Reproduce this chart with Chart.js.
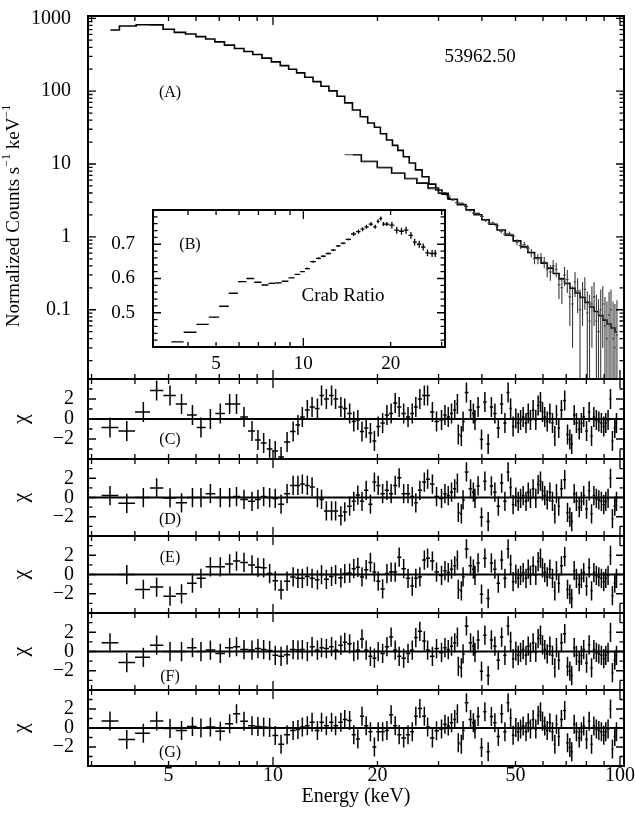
<!DOCTYPE html>
<html>
<head>
<meta charset="utf-8">
<title>53962.50 spectrum</title>
<script src="https://cdn.jsdelivr.net/npm/chart.js@4.4.1/dist/chart.umd.min.js"></script>
<style>
  html, body { margin: 0; padding: 0; background: #fff; }
  #wrap { position: relative; width: 635px; height: 814px; }
  #wrap canvas { position: absolute; left: 0; top: 0; }
</style>
</head>
<body>
<div id="wrap">
  <canvas id="spectrum" width="635" height="814"></canvas>
  <canvas id="crab" width="635" height="814"></canvas>
  <canvas id="resC" width="635" height="814"></canvas>
  <canvas id="resD" width="635" height="814"></canvas>
  <canvas id="resE" width="635" height="814"></canvas>
  <canvas id="resF" width="635" height="814"></canvas>
  <canvas id="resG" width="635" height="814"></canvas>
</div>
<script>
// PCA spectrum (bin centre keV, counts/s/keV)
const pcaE = [3.4, 3.83, 4.25, 4.65, 5.0, 5.4, 5.8, 6.2, 6.6, 7.0, 7.5, 8.0, 8.5, 9.0, 9.6, 10.2, 10.8, 11.4, 12.0, 12.7,
  13.4, 14.1, 14.9, 15.7, 16.5, 17.4, 18.3, 19.2, 20.0, 20.8, 21.7, 22.5, 23.3, 24.2, 25.2, 26.3, 27.5, 28.8, 30.1, 31.3, 32.5];
const pcaRate = [690, 783, 815, 812, 707, 640, 608, 560, 520, 475, 428, 385, 350, 318, 284, 252, 224, 200, 178, 155,
  135, 117, 101, 85, 69, 55, 44.5, 36.5, 32, 26, 21.4, 18, 15.4, 12.6, 10.3, 8.3, 6.7, 5.3, 4.4, 3.85, 3.4];

// HEXTE model (stepped line)
const hexE = [17.0, 19.0, 21.0, 23.0, 25.0, 27.0, 29.0, 31.0, 33.0, 35.0, 37.0, 39.0, 41.0, 43.0, 45.5, 48.0, 50.5, 53.0,
  55.5, 58.0, 60.5, 63.0, 65.5, 68.0, 70.5, 73.0, 75.5, 78.0, 80.5, 83.0, 85.5, 88.0, 90.5, 93.0, 95.5, 98.0];
const hexModel = [13.4, 10.8, 8.95, 7.46, 6.34, 5.46, 4.66, 3.96, 3.28, 2.77, 2.35, 2.01, 1.72, 1.49, 1.24, 1.05, 0.88, 0.73,
  0.61, 0.516, 0.436, 0.372, 0.314, 0.265, 0.229, 0.197, 0.17, 0.147, 0.126, 0.109, 0.0946, 0.083, 0.072, 0.0638, 0.056, 0.0495];

// HEXTE data points with 1-sigma errors
const hexDataE = [17.0, 19.0, 21.0, 23.0, 25.0, 27.0, 29.0, 31.0, 32.0, 33.0, 34.0, 35.0, 36.0, 37.0, 38.0, 39.0, 40.0, 41.0,
  42.0, 43.0, 44.2, 45.5, 46.7, 48.0, 49.2, 50.5, 51.7, 53.0, 54.2, 55.5, 56.7, 58.0, 59.2, 60.5, 61.7, 63.0, 64.2, 65.5,
  66.7, 68.0, 69.2, 70.5, 71.7, 73.0, 74.2, 75.5, 76.7, 78.0, 79.2, 80.5, 81.7, 83.0, 84.2, 85.5, 86.7, 88.0, 89.2, 90.5,
  91.7, 93.0, 94.2, 95.5, 96.7, 98.0];
const hexRate = [13.4, 10.9, 8.9, 7.5, 6.3, 5.55, 4.6, 4.05, 3.65, 3.2, 2.95, 2.9, 2.62, 2.3, 2.12, 2.1, 1.9, 1.68,
  1.55, 1.55, 1.42, 1.2, 1.1, 1.1, 1.02, 0.85, 0.76, 0.78, 0.70, 0.6, 0.5, 0.5, 0.52, 0.45, 0.36, 0.33, 0.40, 0.36,
  0.22, 0.2, 0.3, 0.26, 0.15, 0.12, 0.24, 0.18, 0.1, 0.15, 0.19, 0.09, 0.07, 0.12, 0.15, 0.07, 0.05, 0.1, 0.12, 0.06,
  0.04, 0.085, 0.1, 0.04, 0.03, 0.045];
const hexErr = [0.15, 0.13, 0.11, 0.1, 0.09, 0.08, 0.08, 0.08, 0.08, 0.08, 0.08, 0.08, 0.08, 0.08, 0.08, 0.08, 0.08, 0.08,
  0.08, 0.08, 0.08, 0.08, 0.08, 0.08, 0.08, 0.08, 0.08, 0.08, 0.08, 0.08, 0.08, 0.08, 0.08, 0.08, 0.08, 0.08, 0.08, 0.08,
  0.08, 0.08, 0.09, 0.09, 0.09, 0.09, 0.09, 0.09, 0.09, 0.09, 0.09, 0.09, 0.09, 0.09, 0.09, 0.09, 0.09, 0.09, 0.09, 0.09,
  0.09, 0.09, 0.09, 0.09, 0.09, 0.09];

// inset (B): ratio to the Crab
const crabE = [3.68, 4.06, 4.51, 4.93, 5.33, 5.74, 6.16, 6.57, 6.97, 7.38, 7.78, 8.2, 8.65, 9.12, 9.55, 9.95,
  10.3, 10.8, 11.3, 11.7, 12.2, 12.7, 13.2, 13.7, 14.3, 14.9, 15.5, 16.0, 16.5, 17.1, 17.7, 18.1, 18.5, 18.9, 19.4,
  20.2, 21.0, 21.8, 22.6, 23.5, 24.2, 25.1, 25.9, 26.8, 27.8, 28.5];
const crabRatio = [0.415, 0.443, 0.466, 0.487, 0.519, 0.557, 0.591, 0.600, 0.589, 0.581, 0.586, 0.587, 0.592, 0.602, 0.612, 0.620,
  0.629, 0.649, 0.659, 0.665, 0.673, 0.683, 0.695, 0.703, 0.714, 0.730, 0.737, 0.744, 0.751, 0.759, 0.751, 0.767, 0.775, 0.759, 0.759,
  0.756, 0.741, 0.738, 0.741, 0.726, 0.706, 0.700, 0.692, 0.675, 0.673, 0.673];
const crabErr = [0.002, 0.002, 0.002, 0.002, 0.002, 0.002, 0.002, 0.002, 0.002, 0.002, 0.002, 0.002, 0.002, 0.002, 0.002, 0.002,
  0.003, 0.003, 0.003, 0.003, 0.003, 0.003, 0.003, 0.003, 0.003, 0.006, 0.006, 0.006, 0.006, 0.006, 0.006, 0.006, 0.006, 0.006, 0.006,
  0.01, 0.01, 0.01, 0.01, 0.01, 0.01, 0.01, 0.01, 0.01, 0.01, 0.01];

// residual energies: low part differs per panel, high part is shared
const resLoE = [3.39, 3.79, 4.23, 4.62, 5.05, 5.45, 5.86, 6.2, 6.6, 7.05, 7.5, 7.85, 8.25, 8.7, 9.05, 9.4, 9.78,
  10.15, 10.55, 10.98, 11.43, 11.8, 12.15, 12.56, 12.96, 13.43, 13.8, 14.25, 14.75, 15.15, 15.69, 16.1, 16.63, 17.09, 17.56,
  18.05, 18.56, 19.09, 19.6, 20.1, 20.7, 21.3, 21.9, 22.5, 23.1, 23.8, 24.5, 25.2, 25.8, 26.5, 27.3, 27.9, 28.8, 29.6];
const resHiE = [30.6, 31.3, 32.0, 32.7, 33.4, 34.0, 34.2, 34.9, 35.3, 36.1, 37.1, 37.8, 38.2, 39.0, 39.9, 40.8, 41.7, 42.6,
  43.6, 44.6, 45.6, 46.6, 47.6, 48.4, 49.2, 50.1, 50.9, 51.7, 52.6, 53.6, 54.4, 55.2, 56.2, 57.2, 58.1, 59.0, 59.8, 60.7,
  61.7, 62.8, 63.9, 64.9, 65.6, 66.6, 67.8, 69.3, 70.6, 71.7, 72.6, 73.8, 74.9, 76.3, 77.4, 78.6, 80.1, 81.5, 82.8, 84.1,
  85.5, 86.9, 88.4, 89.8, 91.0, 92.4, 93.9, 95.1, 96.6, 97.7];

const chiC = [-0.85, -1.2, 0.7, 2.85, 2.35, 1.5, 0.4, -0.85, 0, 0.55, 1.5, 1.5, 0.2, -1.2, -2.1, -2.4, -3.0,
  -3.2, -3.8, -2.3, -1.25, -0.6, 0.2, 0.9, 1.2, 1.05, 2.35, 2.0, 2.35, 2.0, 1.2, 1.05, 0.55, -0.25, -0.1, -1.25,
  -0.9, -1.4, -2.2, -0.75, -0.4, 0.4, 0.55, 1.6, 1.2, 0.55, 0.2, 0.55, 1.2, 2.0, 2.35, 2.35, 0.7, -0.25];
const chiD = [0.2, -0.6, 0, 1.0, -0.05, -0.55, 0, 0, 0.4, 0, 0, 0.1, -0.2, -0.4, -0.2, 0.1, 0,
  -0.1, -0.7, 0.4, 1.25, 1.25, 1.4, 1.25, 1.1, 0, -0.2, -1.4, -1.4, -1.4, -1.9, -1.5, -0.9, -0.4, 0.25, -0.4,
  0.75, -0.7, 1.6, 1.25, 0.4, 0.75, 0.4, 1.25, 2.05, 0.4, 0.4, 0.1, -0.55, 0.75, 1.6, 1.9, 1.4, 0.1];
const chiE = [null, 0, -1.55, -1.3, -2.25, -2.0, -0.9, -0.4, 0.8, 0.8, 1.1, 1.4, 1.25, 1.0, 0.75, 0.7, 0.1,
  -0.65, -1.6, -0.7, -0.25, -0.4, -0.4, -0.2, -0.4, -0.55, 0, -0.5, -0.2, 0, -0.35, 0.1, 0.15, 0.6, 0.75, -0.25,
  0.5, 1.25, 0.25, -0.7, -1.5, 0.1, 0.25, 0.25, 1.8, 0.6, -0.4, -1.2, -0.4, -0.25, 1.5, 1.7, 1.4, 0.25];
const chiF = [0.9, -1.15, -0.6, 0.65, 0, 0, 0.4, 0, 0.15, -0.2, 0.4, 0.5, 0.2, 0.15, 0.3, 0.2, 0.1,
  -0.4, -0.5, -0.35, 0.2, 0.15, 0.2, 0, 0.5, 0.15, 0.4, 0.3, 0.5, 0.15, 0.65, 0.95, 0.8, 0, 0.15, 1.3,
  0.15, -0.5, -0.7, 0, -0.2, 0.5, 1.5, 0.15, -0.5, -0.7, -0.2, 0.15, 1.45, 2.1, 1.1, 0.15, -0.5, 0.3];
const chiG = [0.75, -1.2, -0.55, 0.75, -0.05, -0.25, 0.15, 0, 0.1, -0.35, 0.45, 1.5, 0.7, 0.25, 0.15, 0.1, 0.05,
  -0.8, -1.7, -0.7, -0.25, -0.15, 0.1, 0.25, 0.6, -0.25, 0.6, 0.25, 0.6, 0.25, 0.6, 0.9, 0.8, -0.7, -1.15, 1.25,
  0.25, -0.4, -2.0, -0.4, -0.4, -0.25, 1.4, 0.25, -0.7, -1.05, -0.7, -0.4, 1.25, 2.05, 1.25, 0.1, -1.05, -0.3];
const chiHi = [-0.1, 0.4, 0.2, 0.55, 0.9, 1.5, -1.55, -1.7, -0.25, 2.65,
  0.9, 0.55, -0.1, 1.2, -2.05, 1.7, -2.5, 1.2, 0.55, -0.9,
  1.5, -0.4, 2.65, 1.05, -0.75, 0.05, -0.4, -0.1, 0.2, -0.4,
  0.55, -0.1, 0.9, -0.1, 1.35, 1.7, 0.7, 0.2, -0.25, 0.55,
  -0.4, -1.7, 0.4, -0.9, 0.9, 1.85, -1.55, -2.05, -2.5, 0.4,
  -0.4, -1.05, -0.4, 0.2, -1.2, 0.7, -1.7, 0.2, -0.1, -0.25,
  -0.4, -0.75, -0.4, -0.1, 2.0, -2.2, -0.9, -0.4];

// tick labels
const energyLabels = [5, 10, 20, 50, 100];
const countLabels = [0.1, 1, 10, 100, 1000];
const chiLabels = [-2, 0, 2];
const crabXLabels = [5, 10, 20];
const crabYLabels = [0.5, 0.6, 0.7];

const W = 635, H = 814;
const SERIF = '"Liberation Serif", "Times New Roman", "DejaVu Serif", serif';
const X_MIN = 2.93, X_MAX = 102.7;

Chart.defaults.font.family = SERIF;
Chart.defaults.color = '#000';

// tick mark positions (inward ticks on every side)
const xMajor = [10, 100];
const xMinor = [3, 4, 5, 6, 7, 8, 9, 20, 30, 40, 50, 60, 70, 80, 90];
const countMinor = [];
[0.01, 0.1, 1, 10, 100, 1000].forEach((d) => {
  for (let k = 2; k <= 9; k++) countMinor.push(d * k);
});
const chiMinor = [-3, -1, 1, 3];
const crabMinor = [];
for (let v = 42; v < 80; v += 2) if (v % 10 !== 0) crabMinor.push(v / 100);

function binEdges(centers) {
  const lo = [], hi = [];
  centers.forEach((c, i) => {
    const prev = centers[i - 1], next = centers[i + 1];
    const l = prev ? Math.sqrt(prev * c) : null;
    const h = next ? Math.sqrt(c * next) : null;
    lo.push(l !== null ? l : (c * c) / h);
    hi.push(h !== null ? h : (c * c) / l);
  });
  return { lo, hi };
}

function errPoints(xs, ys, dy) {
  const { lo, hi } = binEdges(xs);
  return xs.map((x, i) => {
    if (ys[i] === null) return { x, y: null };
    return { x, y: ys[i], xMin: lo[i], xMax: hi[i], yMin: ys[i] - dy[i], yMax: ys[i] + dy[i] };
  });
}

// plot rectangle -> layout padding, leaving `room` for the axis boxes
function pad(r, yRoom, xRoom) {
  return { left: r.left - yRoom, top: r.top, right: W - r.right, bottom: H - r.bottom - xRoom };
}

function fmt(v) {
  return v < 0 ? '\u2212' + Math.abs(v) : String(v);
}

function axis(type, min, max, labels, show, padding, size, room) {
  return {
    type, min, max, bounds: 'data',
    grid: { display: false, drawTicks: false },
    border: { display: false },
    ticks: { display: show, autoSkip: false, maxRotation: 0, minRotation: 0, padding,
      color: '#000', font: { family: SERIF, size }, callback: fmt },
    afterBuildTicks: (s) => { s.ticks = labels.map((v) => ({ value: v })); },
    afterFit: (s) => {
      if (s.isHorizontal()) s.height = room; else s.width = room;
      s.paddingLeft = s.paddingRight = s.paddingTop = s.paddingBottom = 0;
    },
  };
}

// draws error crosses stored on the data points
const errorBars = {
  id: 'errorBars',
  afterDatasetsDraw(chart) {
    const { ctx, chartArea: a, scales: { x, y } } = chart;
    ctx.save();
    ctx.beginPath();
    ctx.rect(a.left, a.top, a.right - a.left, a.bottom - a.top);
    ctx.clip();
    chart.data.datasets.forEach((ds) => {
      if (!ds.errorBars) return;
      ctx.strokeStyle = ds.barColor || '#000';
      ctx.lineWidth = ds.barWidth || 1.5;
      ctx.beginPath();
      ds.data.forEach((p) => {
        if (p.y === null) return;
        const px = x.getPixelForValue(p.x), py = y.getPixelForValue(p.y);
        ctx.moveTo(x.getPixelForValue(p.xMin), py);
        ctx.lineTo(x.getPixelForValue(p.xMax), py);
        const low = (p.yMin > 0 || y.type !== 'logarithmic') ? y.getPixelForValue(p.yMin) : a.bottom + 2;
        ctx.moveTo(px, y.getPixelForValue(p.yMax));
        ctx.lineTo(px, low);
      });
      ctx.stroke();
    });
    ctx.restore();
  },
};

// box, inward ticks, optional zero line and white background
function frame(o) {
  return {
    id: 'frame',
    beforeDraw(chart) {
      if (!o.fill) return;
      const a = chart.chartArea;
      chart.ctx.save();
      chart.ctx.fillStyle = '#fff';
      chart.ctx.fillRect(a.left, a.top, a.right - a.left, a.bottom - a.top);
      chart.ctx.restore();
    },
    beforeDatasetsDraw(chart) {
      if (!o.zero) return;
      const { ctx, chartArea: a, scales: { y } } = chart;
      const py = y.getPixelForValue(0);
      ctx.save();
      ctx.strokeStyle = '#000';
      ctx.lineWidth = 1.8;
      ctx.beginPath();
      ctx.moveTo(a.left, py);
      ctx.lineTo(a.right, py);
      ctx.stroke();
      ctx.restore();
    },
    afterDraw(chart) {
      const { ctx, chartArea: a, scales: { x, y } } = chart;
      ctx.save();
      ctx.strokeStyle = '#000';
      ctx.lineWidth = 1.3;
      ctx.beginPath();
      const xt = (vals, len) => vals.forEach((v) => {
        if (v < x.min || v > x.max) return;
        const px = x.getPixelForValue(v);
        ctx.moveTo(px, a.top); ctx.lineTo(px, a.top + len);
        ctx.moveTo(px, a.bottom); ctx.lineTo(px, a.bottom - len);
      });
      const yt = (vals, len) => vals.forEach((v) => {
        if (v < y.min || v > y.max) return;
        const py = y.getPixelForValue(v);
        ctx.moveTo(a.left, py); ctx.lineTo(a.left + len, py);
        ctx.moveTo(a.right, py); ctx.lineTo(a.right - len, py);
      });
      xt(o.xMajor, 9); xt(o.xMinor, 5);
      yt(o.yMajor, 8); yt(o.yMinor, 4.5);
      ctx.stroke();
      ctx.lineWidth = 2;
      ctx.strokeRect(a.left, a.top, a.right - a.left, a.bottom - a.top);
      ctx.restore();
    },
  };
}

// free text, with optional superscript parts and rotation
function notes(items) {
  return {
    id: 'notes',
    afterDraw(chart) {
      const ctx = chart.ctx;
      items.forEach((n) => {
        const parts = n.parts || [{ t: n.text }];
        ctx.save();
        ctx.translate(n.x, n.y);
        if (n.rotate) ctx.rotate(n.rotate);
        ctx.fillStyle = '#000';
        ctx.textBaseline = 'middle';
        ctx.textAlign = 'left';
        const fontOf = (p) => `${p.sup ? Math.round(n.size * 0.62) : n.size}px ${SERIF}`;
        let total = 0;
        parts.forEach((p) => { ctx.font = fontOf(p); total += ctx.measureText(p.t).width; });
        let cx = -total / 2;
        parts.forEach((p) => {
          ctx.font = fontOf(p);
          ctx.fillText(p.t, cx, p.sup ? -n.size * 0.38 : 0);
          cx += ctx.measureText(p.t).width;
        });
        ctx.restore();
      });
    },
  };
}

const base = {
  responsive: false,
  animation: false,
  devicePixelRatio: 1,
  events: [],
  plugins: { legend: { display: false }, tooltip: { enabled: false } },
};

// (A) main spectrum
new Chart(document.getElementById('spectrum'), {
  type: 'line',
  data: {
    datasets: [
      { data: pcaE.map((e, i) => ({ x: e, y: pcaRate[i] })), stepped: 'middle',
        borderColor: '#000', borderWidth: 1.6, pointRadius: 0, fill: false },
      { data: hexE.map((e, i) => ({ x: e, y: hexModel[i] })), stepped: 'middle',
        borderColor: '#000', borderWidth: 1.6, pointRadius: 0, fill: false },
      { data: errPoints(hexDataE, hexRate, hexErr), showLine: false, pointRadius: 0,
        errorBars: true, barColor: '#3a3a3a', barWidth: 1.1 },
    ],
  },
  options: {
    ...base,
    layout: { padding: pad({ left: 88, right: 624, top: 16, bottom: 379 }, 88, 0) },
    scales: {
      x: axis('logarithmic', X_MIN, X_MAX, energyLabels, false, 0, 20, 0),
      y: axis('logarithmic', 0.0112, 1075, countLabels, true, 17, 20, 88),
    },
  },
  plugins: [
    errorBars,
    frame({ xMajor, xMinor, yMajor: countLabels, yMinor: countMinor }),
    notes([
      { parts: [{ t: 'Normalized Counts s' }, { t: '\u22121', sup: true }, { t: ' keV' }, { t: '\u22121', sup: true }],
        x: 14, y: 216, rotate: -Math.PI / 2, size: 19 },
      { text: '(A)', x: 170, y: 93, size: 16 },
      { text: '53962.50', x: 480, y: 57, size: 19 },
    ]),
  ],
});

// (B) Crab ratio inset
new Chart(document.getElementById('crab'), {
  type: 'scatter',
  data: {
    datasets: [
      { data: errPoints(crabE, crabRatio, crabErr), pointRadius: 0, errorBars: true, barWidth: 1.3 },
    ],
  },
  options: {
    ...base,
    layout: { padding: pad({ left: 153, right: 445, top: 210, bottom: 347 }, 50, 30) },
    scales: {
      x: axis('logarithmic', 3.03, 30.8, crabXLabels, true, 6, 19, 30),
      y: axis('linear', 0.4, 0.8, crabYLabels, true, 18, 19, 50),
    },
  },
  plugins: [
    errorBars,
    frame({ fill: true, xMajor: [10], xMinor: [4, 5, 6, 7, 8, 9, 20, 30], yMajor: crabYLabels, yMinor: crabMinor }),
    notes([
      { text: '(B)', x: 190, y: 245, size: 16 },
      { text: 'Crab Ratio', x: 343, y: 296, size: 19 },
    ]),
  ],
});

// (C)-(G) residual panels
const resEnergies = resLoE.concat(resHiE);
const unitErr = resEnergies.map(() => 1);

function residualPanel(id, top, bottom, chi, tag, tagY, last) {
  const values = chi.concat(chiHi);
  const xRoom = last ? 40 : 0;
  const extra = last ? [{ text: 'Energy (keV)', x: 356, y: 797, size: 20 }] : [];
  return new Chart(document.getElementById(id), {
    type: 'scatter',
    data: {
      datasets: [
        { data: errPoints(resEnergies, values, unitErr), pointRadius: 0, errorBars: true, barWidth: 1.5 },
      ],
    },
    options: {
      ...base,
      layout: { padding: pad({ left: 88, right: 624, top, bottom }, 88, xRoom) },
      scales: {
        x: axis('logarithmic', X_MIN, X_MAX, energyLabels, last, -2, 20, xRoom),
        y: axis('linear', -4, 4, chiLabels, true, 14, 20, 88),
      },
    },
    plugins: [
      errorBars,
      frame({ zero: true, xMajor, xMinor, yMajor: chiLabels, yMinor: chiMinor }),
      notes([
        { text: '\u03c7', x: 21, y: (top + bottom) / 2, rotate: -Math.PI / 2, size: 22 },
        { text: tag, x: 170, y: tagY, size: 16 },
      ].concat(extra)),
    ],
  });
}

residualPanel('resC', 379, 459, chiC, '(C)', 440, false);
residualPanel('resD', 459, 536, chiD, '(D)', 520, false);
residualPanel('resE', 536, 613, chiE, '(E)', 558, false);
residualPanel('resF', 613, 690, chiF, '(F)', 677, false);
residualPanel('resG', 690, 766, chiG, '(G)', 753, true);
</script>
</body>
</html>
